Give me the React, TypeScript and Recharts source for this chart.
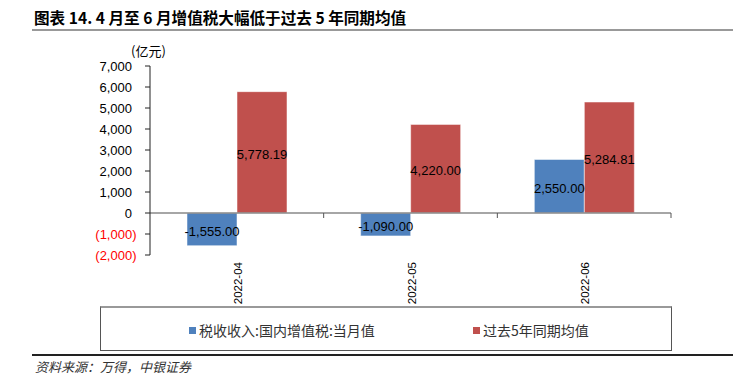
import { Bar, BarChart, LabelList, Legend, ReferenceLine, XAxis, YAxis } from 'recharts'

const categories = ['2022-04', '2022-05', '2022-06']
const vatMonthly = [-1555, -1090, 2550]
const fiveYearAvg = [5778.19, 4220, 5284.81]
const yTicks = [-2000, -1000, 0, 1000, 2000, 3000, 4000, 5000, 6000, 7000]

const seriesNames = ['税收收入:国内增值税:当月值', '过去5年同期均值']
const BLUE = '#4F81BD'
const RED = '#C0504D'

const W = 734
const H = 385
const PLOT_LEFT = 150
const PLOT_RIGHT = 671
const PLOT_TOP = 66
const PLOT_BOTTOM = 255
const Y_MIN = -2000
const Y_MAX = 7000

const LATIN = '"Liberation Sans", Arial, sans-serif'
const CJK = '"Noto Sans CJK SC", "Liberation Sans", sans-serif'

const data = categories.map((c, i) => ({
  month: c,
  vat: vatMonthly[i],
  avg: fiveYearAvg[i],
}))

// y pixel of the zero line, from the same layout numbers the chart uses
const zeroY = PLOT_TOP + ((PLOT_BOTTOM - PLOT_TOP) * Y_MAX) / (Y_MAX - Y_MIN)
const band = (PLOT_RIGHT - PLOT_LEFT) / categories.length

function fmt2(n: number) {
  return n.toLocaleString('en-US', { minimumFractionDigits: 2, maximumFractionDigits: 2 })
}

function YTick(props: any) {
  const { x, y, payload } = props
  const v = Number(payload.value)
  const neg = v < 0
  const label = neg
    ? `(${Math.abs(v).toLocaleString('en-US')})`
    : v.toLocaleString('en-US')
  return (
    <text
      x={neg ? x - 6.5 : x - 11}
      y={y}
      dy="0.35em"
      textAnchor="end"
      fontSize={13}
      fontFamily={LATIN}
      fill={neg ? '#FF0000' : '#000'}
    >
      {label}
    </text>
  )
}

function XTick(props: any) {
  const { x, payload } = props
  return (
    <g>
      <line x1={x + band / 2} x2={x + band / 2} y1={zeroY} y2={zeroY + 5} stroke="#555" strokeWidth={1} />
      <text
        x={0}
        y={0}
        transform={`translate(${x + 1},262) rotate(-90)`}
        textAnchor="end"
        dy="0.35em"
        fontSize={11.5}
        fontFamily={LATIN}
        fill="#000"
      >
        {payload.value}
      </text>
    </g>
  )
}

function BarLabel(props: any) {
  const { x, y, width, height, value } = props
  return (
    <text
      x={x + width / 2}
      y={y + height / 2 + 2}
      dy="0.35em"
      textAnchor="middle"
      fontSize={13}
      fontFamily={LATIN}
      fill="#000"
    >
      {fmt2(Number(value))}
    </text>
  )
}

function LegendBox() {
  const colors = [BLUE, RED]
  const lefts = [88, 372]
  return (
    <div
      style={{
        position: 'relative',
        width: 570,
        height: 42,
        border: '1px solid #555',
        borderTop: '2px solid #999',
        boxSizing: 'content-box',
      }}
    >
      {seriesNames.map((n, i) => (
        <div
          key={n}
          style={{
            position: 'absolute',
            left: lefts[i],
            top: 13,
            display: 'flex',
            alignItems: 'center',
            fontFamily: CJK,
            fontSize: 14,
            color: '#333',
            lineHeight: '18px',
            whiteSpace: 'nowrap',
          }}
        >
          <span style={{ width: 7, height: 7, background: colors[i], marginRight: 3 }} />
          {n}
        </div>
      ))}
    </div>
  )
}

export default function App() {
  return (
    <div style={{ position: 'absolute', left: 0, top: 0, width: W, height: H, background: '#fff' }}>
      <div
        style={{
          position: 'absolute',
          left: 34,
          top: 6,
          fontFamily: CJK,
          fontWeight: 700,
          fontSize: 15.6,
          color: '#000',
          whiteSpace: 'nowrap',
        }}
      >
        图表 14. 4 月至 6 月增值税大幅低于过去 5 年同期均值
      </div>
      <div style={{ position: 'absolute', left: 32, top: 29, width: 701, height: 2, background: '#999' }} />
      <div
        style={{
          position: 'absolute',
          left: 131,
          top: 41,
          fontFamily: CJK,
          fontSize: 13,
          color: '#000',
          whiteSpace: 'nowrap',
        }}
      >
        (亿元)
      </div>
      <BarChart
        width={W}
        height={H}
        data={data}
        barGap={0}
        margin={{ top: PLOT_TOP, right: W - PLOT_RIGHT, left: 0, bottom: H - PLOT_BOTTOM - 50 }}
      >
        <XAxis
          dataKey="month"
          axisLine={false}
          tickLine={false}
          tick={<XTick />}
          interval={0}
          height={50}
        />
        <YAxis
          domain={[Y_MIN, Y_MAX]}
          ticks={yTicks}
          interval={0}
          width={PLOT_LEFT}
          axisLine={{ stroke: '#222' }}
          tickLine={{ stroke: '#222' }}
          tickSize={5}
          tick={<YTick />}
        />
        <Legend
          layout="horizontal"
          verticalAlign="middle"
          align="center"
          wrapperStyle={{ left: 100, top: 306, width: 574, height: 46 }}
          content={() => <LegendBox />}
        />
        <Bar dataKey="vat" fill={BLUE} barSize={50} stroke="rgba(255,255,255,0.5)" isAnimationActive={false}>
          <LabelList dataKey="vat" content={<BarLabel />} />
        </Bar>
        <Bar dataKey="avg" fill={RED} barSize={50} stroke="rgba(255,255,255,0.5)" isAnimationActive={false}>
          <LabelList dataKey="avg" content={<BarLabel />} />
        </Bar>
        <ReferenceLine y={0} stroke="#888" strokeWidth={1.5} />
      </BarChart>
      <div style={{ position: 'absolute', left: 32, top: 354, width: 701, height: 1.5, background: '#222' }} />
      <div
        style={{
          position: 'absolute',
          left: 35,
          top: 357,
          fontFamily: CJK,
          fontStyle: 'italic',
          fontSize: 13,
          color: '#333',
          whiteSpace: 'nowrap',
        }}
      >
        资料来源：万得，中银证券
      </div>
    </div>
  )
}
